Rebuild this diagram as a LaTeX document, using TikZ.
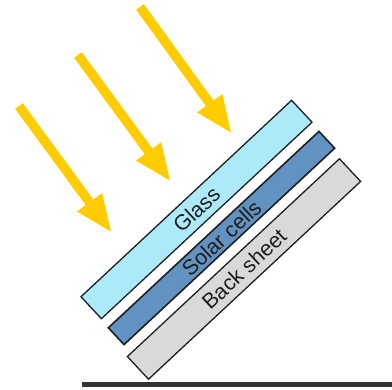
\documentclass[tikz,border=0pt]{standalone}
\usepackage{fontspec}
\usetikzlibrary{arrows.meta}
\newfontfamily\labelfont{Liberation Sans}
\definecolor{sunray}{RGB}{255,204,0}
\definecolor{glassfill}{RGB}{172,234,250}
\definecolor{cellfill}{RGB}{98,146,194}
\definecolor{backfill}{RGB}{217,217,217}
\definecolor{edge}{RGB}{30,30,30}
\definecolor{groundcol}{RGB}{51,51,51}
\tikzset{
  layer/.style={draw=edge, line width=1.3pt, rotate=43, inner sep=0pt,
    text=edge, font=\labelfont\fontsize{21.5}{23}\selectfont},
  ray/.style={draw=sunray, line width=9.5pt,
    -{Triangle[width=28pt, length=38pt]}},
  ground/.style={draw=groundcol, line width=5pt}
}
\begin{document}
\begin{tikzpicture}[x=1pt, y=-1pt]
  \useasboundingbox (0,0) rectangle (392,390);
  % module layers, tilted towards the sun
  \node[layer, fill=glassfill, minimum width=288pt, minimum height=30pt] (glass) at (196.5,209.5) {Glass};
  \node[layer, fill=cellfill, minimum width=288pt, minimum height=23pt, line width=1.6pt] (cells) at (221.5,238) {Solar cells};
  \node[layer, fill=backfill, minimum width=290pt, minimum height=31pt] (back) at (244,269) {Back sheet};
  % incoming sunlight
  \coordinate (s1) at (19,106);  \coordinate (e1) at (112,233);
  \coordinate (s2) at (78,55);   \coordinate (e2) at (171,182);
  \coordinate (s3) at (140,7);   \coordinate (e3) at (232,134);
  \draw[ray] (s1) -- (e1);
  \draw[ray] (s2) -- (e2);
  \draw[ray] (s3) -- (e3);
  % ground
  \coordinate (g1) at (82,384.5);
  \coordinate (g2) at (392,384.5);
  \draw[ground] (g1) -- (g2);
\end{tikzpicture}
\end{document}
